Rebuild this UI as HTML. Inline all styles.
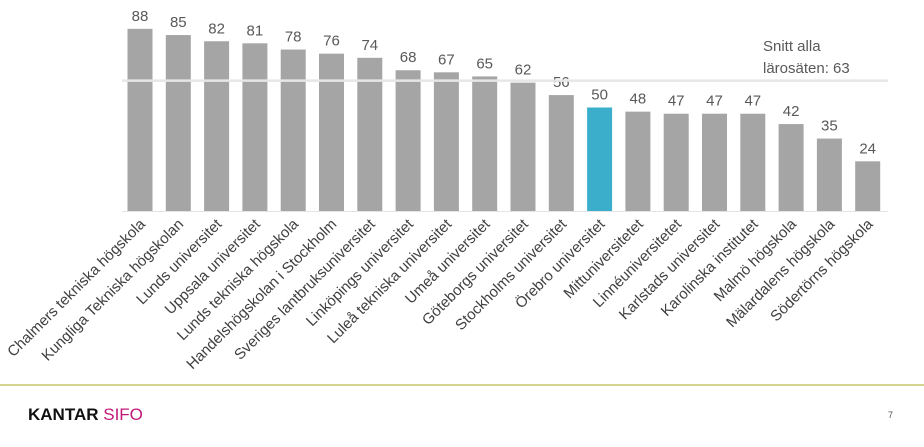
<!DOCTYPE html>
<html><head><meta charset="utf-8"><style>
body{margin:0;width:924px;height:442px;background:#fff;overflow:hidden;font-family:"Liberation Sans",sans-serif;}
</style></head><body>
<svg width="924" height="442">
<g id="bars"></g>
<g id="avg"></g>
<g id="labels"></g>
<text x="763" y="51" font-size="15" fill="#595959">Snitt alla</text>
<text x="763" y="73" font-size="15" fill="#595959">lärosäten: 63</text>
<line x1="0" y1="385" x2="924" y2="385" stroke="#c8c46a" stroke-width="1.5"/>
<text x="28" y="420" font-size="17" font-weight="bold" fill="#111">KANTAR <tspan fill="#c2187a" font-weight="normal">SIFO</tspan></text>
<text x="888" y="418" font-size="9" fill="#555">7</text>
</svg>
<script>
const categories=["Chalmers tekniska högskola","Kungliga Tekniska högskolan","Lunds universitet","Uppsala universitet","Lunds tekniska högskola","Handelshögskolan i Stockholm","Sveriges lantbruksuniversitet","Linköpings universitet","Luleå tekniska universitet","Umeå universitet","Göteborgs universitet","Stockholms universitet","Örebro universitet","Mittuniversitetet","Linnéuniversitetet","Karlstads universitet","Karolinska institutet","Malmö högskola","Mälardalens högskola","Södertörns högskola"];
const values=[88,85,82,81,78,76,74,68,67,65,62,56,50,48,47,47,47,42,35,24];
const highlight=["Örebro universitet"];
const average=[63];
const NS="http://www.w3.org/2000/svg";
const base=211, scale=2.07, x0=140, step=38.3, bw=25;
const xs=i=>x0+i*step, ys=v=>base-v*scale;
const bars=document.getElementById('bars'), labs=document.getElementById('labels'), avg=document.getElementById('avg');
function mk(t,a){const e=document.createElementNS(NS,t);for(const k in a)e.setAttribute(k,a[k]);return e;}
const ax=mk('line',{x1:122,y1:base+0.5,x2:888,y2:base+0.5,stroke:'#e4e4e4','stroke-width':1});


bars.appendChild(ax);
values.forEach((v,i)=>{
 const r=mk('rect',{x:xs(i)-bw/2,y:ys(v),width:bw,height:v*scale,fill:highlight.includes(categories[i])?'#3aaecb':'#a5a5a5'});
 
 
 bars.appendChild(r);
 const t=mk('text',{x:xs(i),y:ys(v)-8,'font-size':15,fill:'#595959','text-anchor':'middle'});
 t.textContent=v;
 
 
 bars.appendChild(t);
 const l=mk('text',{x:0,y:0,'font-size':15,fill:'#404040','text-anchor':'end',transform:`translate(${xs(i)+6},${base+14}) rotate(-45)`});
 l.textContent=categories[i];
 
 
 labs.appendChild(l);
});
const al=mk('line',{x1:122,y1:ys(average[0]),x2:888,y2:ys(average[0]),stroke:'#e6e6e6','stroke-width':2.5});


avg.appendChild(al);
</script>
</body></html>
